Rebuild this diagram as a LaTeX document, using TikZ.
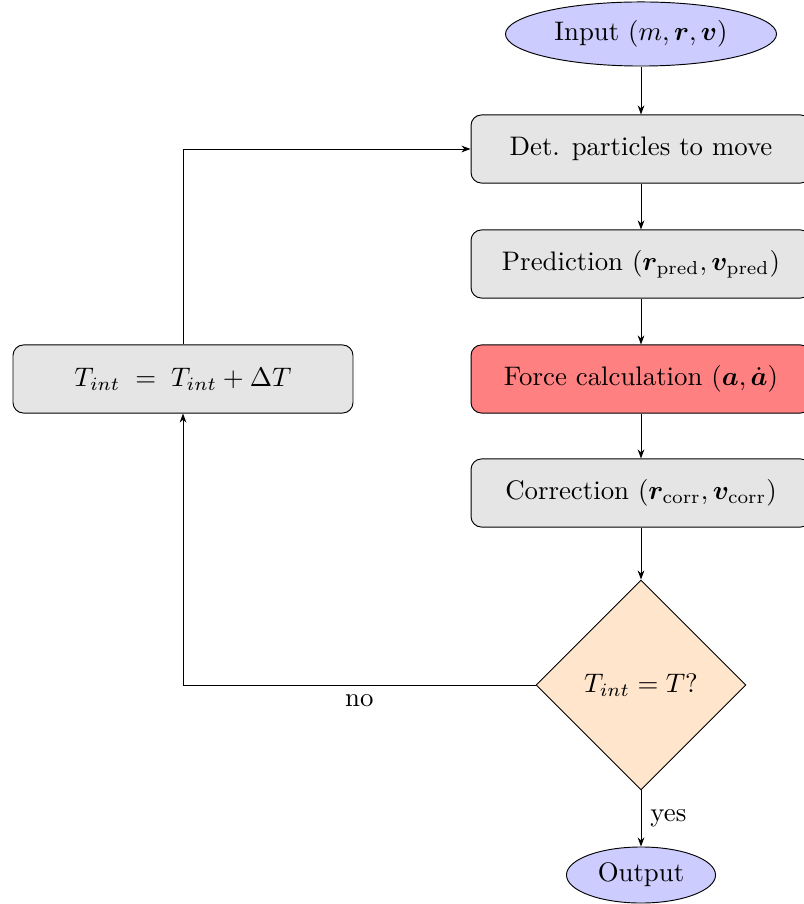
\documentclass[tikz,border=0pt]{standalone}
\usepackage{amsmath}
\usepackage{bm}
\usetikzlibrary{shapes.geometric,arrows.meta}
\tikzset{
  procbox/.style={draw, rounded corners=3.9pt, fill=black!10, minimum width=126.8pt, minimum height=25.4pt, inner sep=0pt, line width=0.35pt},
  termnode/.style={draw, ellipse, fill=blue!20, inner sep=0pt, line width=0.35pt},
  decnode/.style={draw, diamond, aspect=1, fill=orange!20, minimum width=78.3pt, minimum height=78.3pt, inner sep=0pt, line width=0.35pt},
  flow/.style={draw, line width=0.35pt, -{Stealth[length=3.4pt,width=2.5pt]}}
}
\begin{document}
\begin{tikzpicture}[x=0.373pt,y=-0.373pt]
\useasboundingbox (0,0) rectangle (803,904);
\node[termnode, minimum width=101.1pt, minimum height=23.9pt] (in) at (641,34) {Input $(m,\bm{r},\bm{v})$};
\node[procbox] (det) at (641,149) {Det. particles to move};
\node[procbox] (pred) at (641,264) {Prediction $(\bm{r}_{\text{pred}},\bm{v}_{\text{pred}})$};
\node[procbox, fill=red!50] (force) at (641,379) {Force calculation $(\bm{a},\dot{\bm{a}})$};
\node[procbox] (corr) at (641,493) {Correction $(\bm{r}_{\text{corr}},\bm{v}_{\text{corr}})$};
\node[decnode] (dec) at (641,685) {$T_{int}=T?$};
\node[termnode, minimum width=55.6pt, minimum height=20.9pt] (out) at (641,875) {Output};
\node[procbox] (upd) at (183,379) {$T_{int}\;=\;T_{int}+\Delta T$};
\coordinate (c1) at (183,685);
\coordinate (c2) at (183,149);
\draw[flow] (in) -- (det);
\draw[flow] (det) -- (pred);
\draw[flow] (pred) -- (force);
\draw[flow] (force) -- (corr);
\draw[flow] (corr) -- (dec);
\draw[flow] (dec) -- node[right, pos=0.5] {yes} (out);
\draw[flow] (dec.west) -- node[below, pos=0.5] {no} (c1) -- (upd.south);
\draw[flow] (upd.north) -- (c2) -- (det.west);
\end{tikzpicture}
\end{document}
